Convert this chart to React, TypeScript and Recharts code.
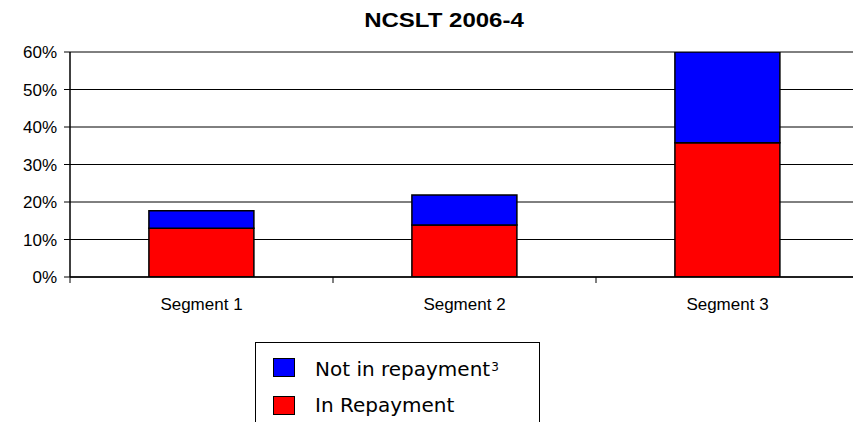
import { Bar, BarChart, CartesianGrid, XAxis, YAxis } from 'recharts';

const segments = ['Segment 1', 'Segment 2', 'Segment 3'];
const inRepayment = [13.0, 13.9, 35.8];
const notInRepayment = [4.7, 8.0, 24.2];
const yTicks = [0, 10, 20, 30, 40, 50, 60];

const SERIES = [
  { key: 'inRepayment', name: 'In Repayment', color: '#ff0000', note: '' },
  { key: 'notInRepayment', name: 'Not in repayment', color: '#0000ff', note: '3' },
];

const data = segments.map((segment, i) => ({
  segment,
  inRepayment: inRepayment[i],
  notInRepayment: notInRepayment[i],
}));

const CHART_W = 870;
const CHART_H = 422;
const MARGIN = { top: 52, right: 11, bottom: 115, left: 0 };
const Y_AXIS_W = 70;
// width of one category band, used to put the tick marks between the bars
const BAND = (CHART_W - MARGIN.left - MARGIN.right - Y_AXIS_W) / segments.length;

const axisFont = { fontFamily: 'Liberation Sans, Arial, sans-serif', fontSize: 17, fill: '#000' };

function SegmentTick(props: any) {
  const { x, y, payload } = props;
  const left = x - BAND / 2;
  return (
    <g>
      <line x1={left} x2={left} y1={y - 8} y2={y - 2} stroke="#000" strokeWidth={1} />
      <text x={x} y={y + 25} textAnchor="middle" {...axisFont}>
        {payload.value}
      </text>
    </g>
  );
}

// legend lists the top series first, like the stack reads
function LegendBox() {
  const items = [...SERIES].reverse();
  return (
    <div
      style={{
        position: 'absolute',
        left: 255,
        top: 342,
        width: 285,
        height: 100,
        border: '1px solid #000',
        boxSizing: 'border-box',
        background: '#fff',
        paddingTop: 6,
        fontFamily: 'DejaVu Sans, Verdana, sans-serif',
        fontSize: 20,
        color: '#000',
      }}
    >
      {items.map((item) => (
        <div key={item.key} style={{ display: 'flex', alignItems: 'center', height: 37.5 }}>
          <span
            style={{
              display: 'inline-block',
              width: 22,
              height: 19,
              marginLeft: 17,
              marginRight: 20,
              background: item.color,
              border: '1px solid #000',
              boxSizing: 'border-box',
            }}
          />
          <span style={{ lineHeight: '22px' }}>
            {item.name}
            {item.note && (
              <span style={{ fontSize: 12, verticalAlign: 5, marginLeft: 1 }}>{item.note}</span>
            )}
          </span>
        </div>
      ))}
    </div>
  );
}

export default function App() {
  return (
    <div
      style={{
        position: 'absolute',
        left: 0,
        top: 0,
        width: 853,
        height: 422,
        overflow: 'hidden',
        background: '#fff',
      }}
    >
      <div
        style={{
          position: 'absolute',
          left: 244,
          top: 9,
          width: 400,
          textAlign: 'center',
          fontFamily: 'Liberation Sans, Arial, sans-serif',
          fontWeight: 'bold',
          fontSize: 20,
          lineHeight: '23px',
          transform: 'scaleX(1.2)',
          zIndex: 1,
        }}
      >
        NCSLT 2006-4
      </div>
      <BarChart
        width={CHART_W}
        height={CHART_H}
        data={data}
        margin={MARGIN}
        barCategoryGap="30%"
      >
        <CartesianGrid vertical={false} stroke="#000" strokeWidth={1} />
        <XAxis
          dataKey="segment"
          height={30}
          axisLine={{ stroke: '#000', strokeWidth: 1.5 }}
          tickLine={false}
          tick={<SegmentTick />}
          interval={0}
        />
        <YAxis
          width={Y_AXIS_W}
          domain={[0, 60]}
          ticks={yTicks}
          interval={0}
          allowDataOverflow
          tickFormatter={(v: number) => `${v}%`}
          axisLine={{ stroke: '#000', strokeWidth: 1.5 }}
          tickLine={{ stroke: '#000' }}
          tickSize={6}
          tickMargin={7}
          tick={axisFont}
        />
        {SERIES.map((s) => (
          <Bar
            key={s.key}
            dataKey={s.key}
            name={s.name}
            stackId="s"
            fill={s.color}
            stroke="#000"
            strokeWidth={1.5}
            isAnimationActive={false}
          />
        ))}
      </BarChart>
      <LegendBox />
    </div>
  );
}
